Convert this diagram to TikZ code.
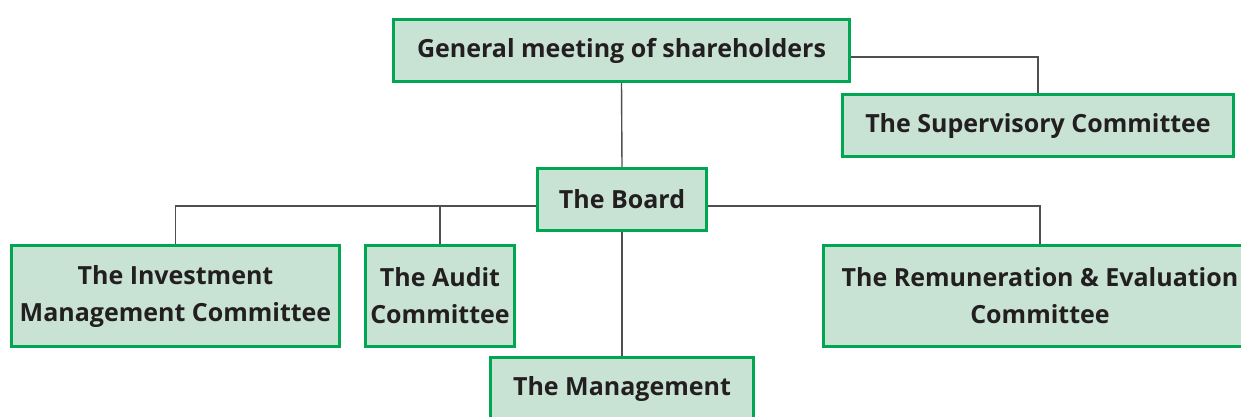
\documentclass[tikz,border=0pt]{standalone}
\usepackage{fontspec}
\setmainfont{Open Sans}
\usetikzlibrary{positioning}
\definecolor{boxgreen}{HTML}{00A651}
\definecolor{boxfill}{HTML}{C8E3D4}
\definecolor{linegray}{HTML}{505050}
\definecolor{textdark}{HTML}{231F20}
\tikzset{
    orgbox/.style={draw=boxgreen, fill=boxfill, line width=3pt, align=center,
            text=textdark, font=\fontsize{25}{37}\selectfont\bfseries, inner sep=0pt},
    orgline/.style={draw=linegray, line width=1.4pt},
}

\begin{document}
\begin{tikzpicture}[x=1pt, y=-1pt]
        \useasboundingbox (0, 0) rectangle (1241, 416);
        \clip (0, 0) rectangle (1241, 416);
        %draw the boxes
        \node[orgbox, minimum width=456pt, minimum height=62pt] (gm) at (621.5, 50.5) {General meeting of shareholders};
        \node[orgbox, minimum width=391pt, minimum height=62pt] (sup) at (1038, 125.5) {The Supervisory Committee};
        \node[orgbox, minimum width=169pt, minimum height=62pt] (board) at (622, 199.5) {The Board};
        \node[orgbox, minimum width=328pt, minimum height=101pt] (inv) at (175.5, 296) {The Investment\\Management Committee};
        \node[orgbox, minimum width=149pt, minimum height=101pt] (aud) at (440, 296) {The Audit\\Committee};
        \node[orgbox, minimum width=433pt, minimum height=101pt] (rem) at (1040, 296) {The Remuneration \& Evaluation\\Committee};
        \node[orgbox, minimum width=263pt, minimum height=62pt] (mgmt) at (622, 388.5) {The Management};
        %draw the connectors
        \draw[orgline] ([yshift=-6.5pt]gm.east) -| (sup.north);
        \draw[orgline] (gm.south) -- (board.north);
        \draw[orgline] ([yshift=-6.5pt]board.west) -| (inv.north);
        \draw[orgline] (aud.north) |- ([yshift=-6.5pt]board.west);
        \draw[orgline] ([yshift=-6.5pt]board.east) -| (rem.north);
        \draw[orgline] (board.south) -- (mgmt.north);
    \end{tikzpicture}
\end{document}
